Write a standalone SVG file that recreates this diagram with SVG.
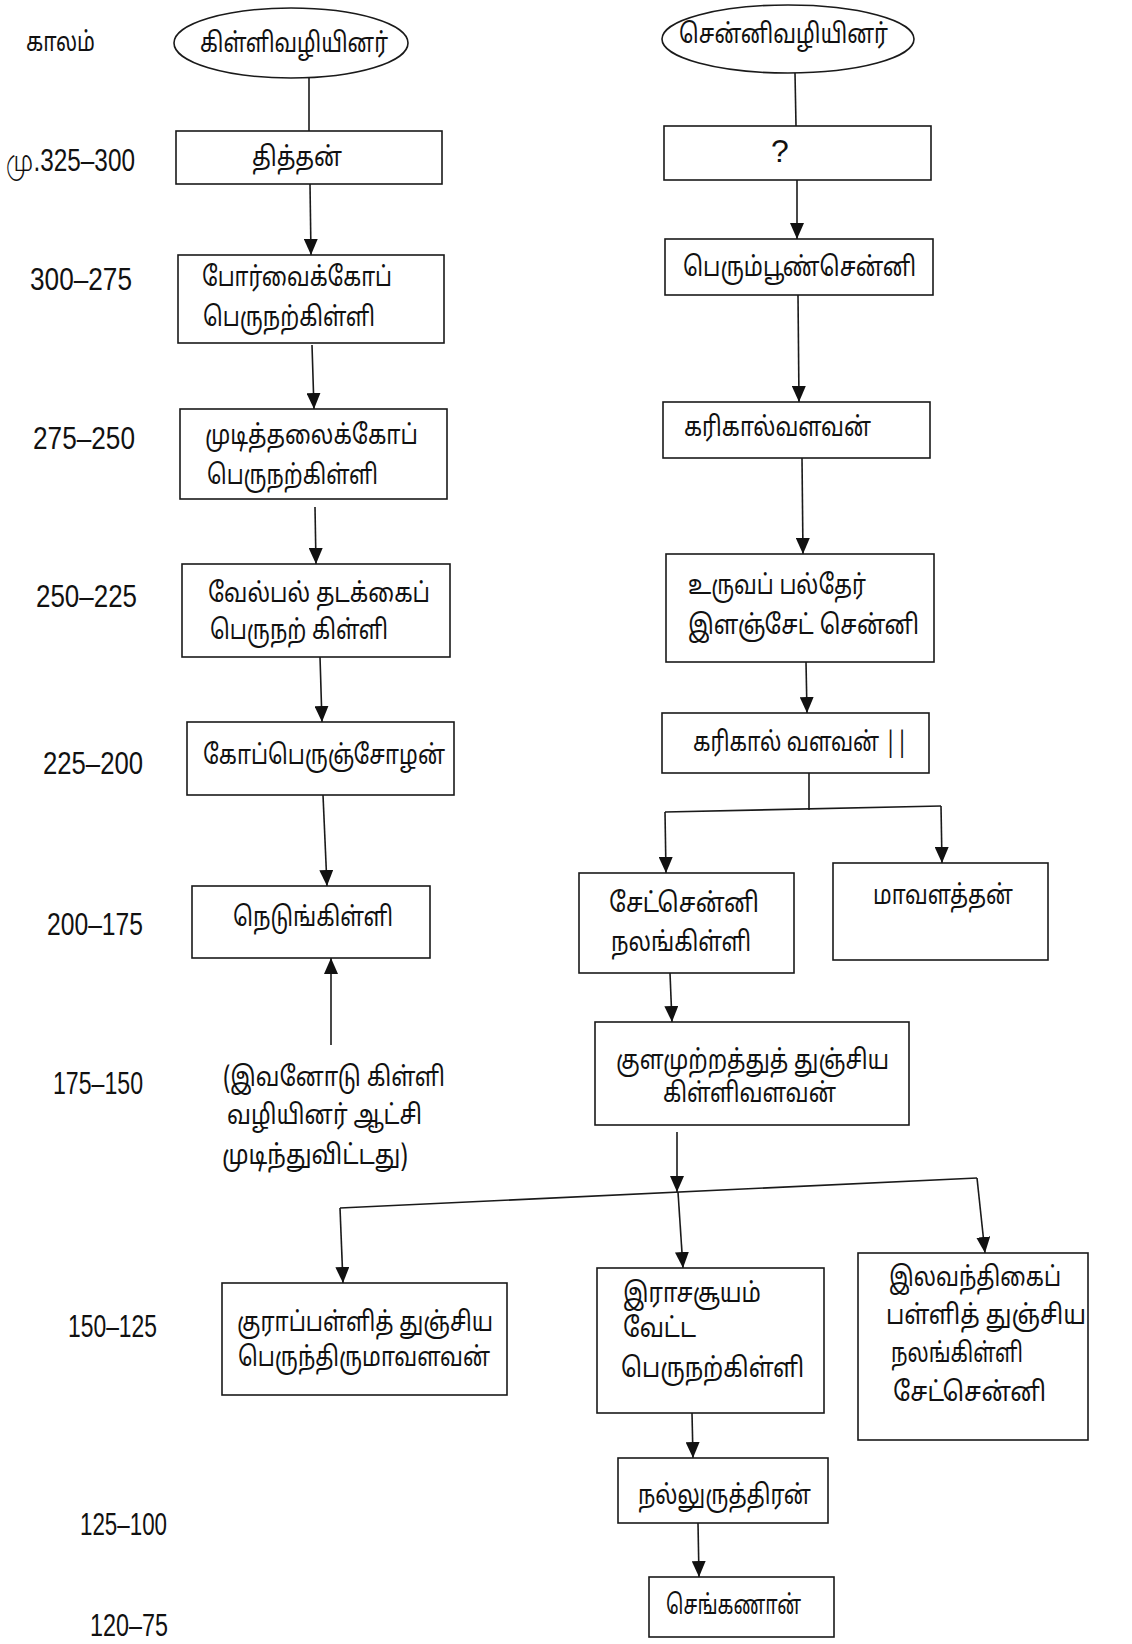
<svg xmlns="http://www.w3.org/2000/svg" width="1132" height="1644" viewBox="0 0 1132 1644">
<defs>
<style>
.bx{fill:none;stroke:#1a1a1a;stroke-width:1.6}
.t{font-family:"Noto Sans Tamil","Lohit Tamil","Noto Sans",sans-serif;font-size:27px;fill:#111}
.d{font-family:"Liberation Sans Narrow","Liberation Sans",Arial,sans-serif;font-size:32px;fill:#111}
.c{fill:none;stroke:#1a1a1a;stroke-width:1.6}
.ar{marker-end:url(#ah)}
</style>
<marker id="ah" markerUnits="userSpaceOnUse" markerWidth="16" markerHeight="14" refX="16" refY="7" orient="auto">
<path d="M0,0 L16,7 L0,14 z" fill="#111"/>
</marker>
</defs>
<rect width="1132" height="1644" fill="#fff"/>

<g id="dates">
<text class="t" x="26" y="51" textLength="69" lengthAdjust="spacingAndGlyphs" font-size="24">காலம்</text>
<text class="d" x="6" y="171" textLength="129" lengthAdjust="spacingAndGlyphs">மு.325–300</text>
<text class="d" x="30" y="290" textLength="102" lengthAdjust="spacingAndGlyphs">300–275</text>
<text class="d" x="33" y="449" textLength="102" lengthAdjust="spacingAndGlyphs">275–250</text>
<text class="d" x="36" y="607" textLength="101" lengthAdjust="spacingAndGlyphs">250–225</text>
<text class="d" x="43" y="774" textLength="100" lengthAdjust="spacingAndGlyphs">225–200</text>
<text class="d" x="47" y="935" textLength="96" lengthAdjust="spacingAndGlyphs">200–175</text>
<text class="d" x="53" y="1094" textLength="90" lengthAdjust="spacingAndGlyphs">175–150</text>
<text class="d" x="68" y="1337" textLength="89" lengthAdjust="spacingAndGlyphs">150–125</text>
<text class="d" x="80" y="1535" textLength="87" lengthAdjust="spacingAndGlyphs">125–100</text>
<text class="d" x="90" y="1636" textLength="78" lengthAdjust="spacingAndGlyphs" font-size="24">120–75</text>
</g>

<g id="connectors">
<path class="c" d="M309,78 L309,131"/>
<path class="c ar" d="M310,184 L311,255"/>
<path class="c ar" d="M312,345 L314,409"/>
<path class="c ar" d="M315,507 L316,564"/>
<path class="c ar" d="M320,657 L322,722"/>
<path class="c ar" d="M323,795 L327,886"/>
<path class="c ar" d="M331,1045 L331,958"/>
<path class="c" d="M795,73 L796,126"/>
<path class="c ar" d="M797,180 L797,239"/>
<path class="c ar" d="M798,295 L799,402"/>
<path class="c ar" d="M802,458 L803,554"/>
<path class="c ar" d="M806,662 L807,713"/>
<path class="c" d="M809,773 L809,810"/>
<path class="c" d="M665,812 L941,806"/>
<path class="c ar" d="M665,812 L666,873"/>
<path class="c ar" d="M941,806 L942,863"/>
<path class="c ar" d="M670,973 L672,1022"/>
<path class="c ar" d="M677,1132 L677,1192"/>
<path class="c" d="M340,1208 L977,1178"/>
<path class="c ar" d="M340,1208 L343,1283"/>
<path class="c ar" d="M678,1192 L683,1268"/>
<path class="c ar" d="M977,1178 L985,1253"/>
<path class="c ar" d="M692,1413 L693,1458"/>
<path class="c ar" d="M698,1523 L699,1577"/>
</g>

<g id="n-killi-head">
<ellipse class="bx" cx="291" cy="43" rx="117" ry="35"/>
<text class="t" x="200" y="52" textLength="188" lengthAdjust="spacingAndGlyphs">கிள்ளிவழியினர்</text>
</g>
<g id="n-senni-head">
<ellipse class="bx" cx="788" cy="39" rx="126" ry="34"/>
<text class="t" x="679" y="43" textLength="209" lengthAdjust="spacingAndGlyphs">சென்னிவழியினர்</text>
</g>
<g id="n-tittan">
<rect class="bx" x="176" y="131" width="266" height="53"/>
<text class="t" x="252" y="166" textLength="90" lengthAdjust="spacingAndGlyphs">தித்தன்</text>
</g>
<g id="n-unknown">
<rect class="bx" x="664" y="126" width="267" height="54"/>
<text class="d" x="771" y="162" font-size="26">?</text>
</g>
<g id="n-porvai">
<rect class="bx" x="178" y="255" width="266" height="88"/>
<text class="t" x="202" y="286" textLength="190" lengthAdjust="spacingAndGlyphs">போர்வைக்கோப்</text>
<text class="t" x="203" y="326" textLength="172" lengthAdjust="spacingAndGlyphs">பெருநற்கிள்ளி</text>
</g>
<g id="n-perumpun">
<rect class="bx" x="665" y="239" width="268" height="56"/>
<text class="t" x="683" y="276" textLength="233" lengthAdjust="spacingAndGlyphs">பெரும்பூண்சென்னி</text>
</g>
<g id="n-mudi">
<rect class="bx" x="180" y="409" width="267" height="90"/>
<text class="t" x="205" y="444" textLength="213" lengthAdjust="spacingAndGlyphs">முடித்தலைக்கோப்</text>
<text class="t" x="207" y="484" textLength="171" lengthAdjust="spacingAndGlyphs">பெருநற்கிள்ளி</text>
</g>
<g id="n-karikal">
<rect class="bx" x="663" y="402" width="267" height="56"/>
<text class="t" x="684" y="436" textLength="187" lengthAdjust="spacingAndGlyphs">கரிகால்வளவன்</text>
</g>
<g id="n-vel">
<rect class="bx" x="182" y="564" width="268" height="93"/>
<text class="t" x="208" y="602" textLength="222" lengthAdjust="spacingAndGlyphs">வேல்பல் தடக்கைப்</text>
<text class="t" x="210" y="639" textLength="178" lengthAdjust="spacingAndGlyphs">பெருநற் கிள்ளி</text>
</g>
<g id="n-uruva">
<rect class="bx" x="666" y="554" width="268" height="108"/>
<text class="t" x="688" y="594" textLength="178" lengthAdjust="spacingAndGlyphs">உருவப் பல்தேர்</text>
<text class="t" x="688" y="634" textLength="231" lengthAdjust="spacingAndGlyphs">இளஞ்சேட் சென்னி</text>
</g>
<g id="n-kop">
<rect class="bx" x="187" y="722" width="267" height="73"/>
<text class="t" x="203" y="764" textLength="242" lengthAdjust="spacingAndGlyphs">கோப்பெருஞ்சோழன்</text>
</g>
<g id="n-karikal2">
<rect class="bx" x="662" y="713" width="267" height="60"/>
<text class="t" x="693" y="751" textLength="215" lengthAdjust="spacingAndGlyphs">கரிகால் வளவன் ||</text>
</g>
<g id="n-nedu">
<rect class="bx" x="192" y="886" width="238" height="72"/>
<text class="t" x="233" y="926" textLength="160" lengthAdjust="spacingAndGlyphs">நெடுங்கிள்ளி</text>
</g>
<g id="n-end-note">
<text class="t" x="223" y="1086" textLength="222" lengthAdjust="spacingAndGlyphs">(இவனோடு கிள்ளி</text>
<text class="t" x="227" y="1124" textLength="195" lengthAdjust="spacingAndGlyphs">வழியினர் ஆட்சி</text>
<text class="t" x="222" y="1164" textLength="186" lengthAdjust="spacingAndGlyphs">முடிந்துவிட்டது)</text>
</g>
<g id="n-set">
<rect class="bx" x="579" y="873" width="215" height="100"/>
<text class="t" x="609" y="912" textLength="150" lengthAdjust="spacingAndGlyphs">சேட்சென்னி</text>
<text class="t" x="611" y="951" textLength="140" lengthAdjust="spacingAndGlyphs">நலங்கிள்ளி</text>
</g>
<g id="n-mava">
<rect class="bx" x="833" y="863" width="215" height="97"/>
<text class="t" x="873" y="904" textLength="140" lengthAdjust="spacingAndGlyphs">மாவளத்தன்</text>
</g>
<g id="n-kula">
<rect class="bx" x="595" y="1022" width="314" height="103"/>
<text class="t" x="616" y="1069" textLength="273" lengthAdjust="spacingAndGlyphs">குளமுற்றத்துத் துஞ்சிய</text>
<text class="t" x="663" y="1102" textLength="173" lengthAdjust="spacingAndGlyphs">கிள்ளிவளவன்</text>
</g>
<g id="n-kurap">
<rect class="bx" x="222" y="1283" width="285" height="112"/>
<text class="t" x="237" y="1331" textLength="256" lengthAdjust="spacingAndGlyphs">குராப்பள்ளித் துஞ்சிய</text>
<text class="t" x="238" y="1366" textLength="252" lengthAdjust="spacingAndGlyphs">பெருந்திருமாவளவன்</text>
</g>
<g id="n-irasa">
<rect class="bx" x="597" y="1268" width="227" height="145"/>
<text class="t" x="623" y="1302" textLength="138" lengthAdjust="spacingAndGlyphs">இராசசூயம்</text>
<text class="t" x="623" y="1337" textLength="73" lengthAdjust="spacingAndGlyphs">வேட்ட</text>
<text class="t" x="621" y="1377" textLength="183" lengthAdjust="spacingAndGlyphs">பெருநற்கிள்ளி</text>
</g>
<g id="n-ilava">
<rect class="bx" x="858" y="1253" width="230" height="187"/>
<text class="t" x="889" y="1286" textLength="172" lengthAdjust="spacingAndGlyphs">இலவந்திகைப்</text>
<text class="t" x="886" y="1324" textLength="200" lengthAdjust="spacingAndGlyphs">பள்ளித் துஞ்சிய</text>
<text class="t" x="891" y="1362" textLength="132" lengthAdjust="spacingAndGlyphs">நலங்கிள்ளி</text>
<text class="t" x="893" y="1401" textLength="153" lengthAdjust="spacingAndGlyphs">சேட்சென்னி</text>
</g>
<g id="n-nallu">
<rect class="bx" x="618" y="1458" width="210" height="65"/>
<text class="t" x="638" y="1504" textLength="173" lengthAdjust="spacingAndGlyphs">நல்லுருத்திரன்</text>
</g>
<g id="n-senga">
<rect class="bx" x="649" y="1577" width="185" height="60"/>
<text class="t" x="666" y="1614" textLength="135" lengthAdjust="spacingAndGlyphs">செங்கணான்</text>
</g>
</svg>
